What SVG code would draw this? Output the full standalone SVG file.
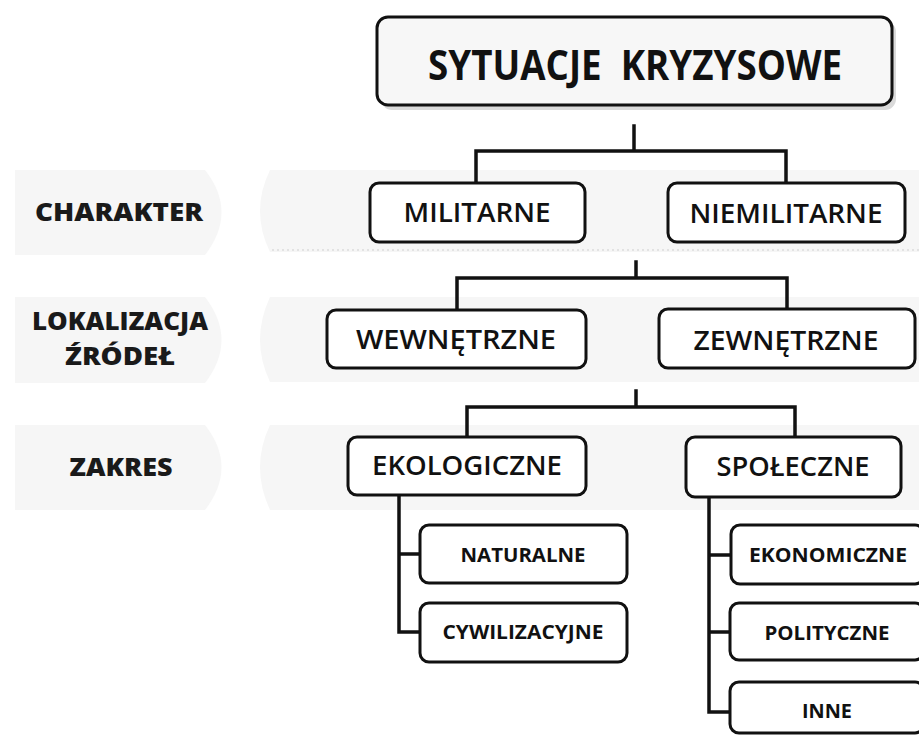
<svg xmlns="http://www.w3.org/2000/svg" width="919" height="736" viewBox="0 0 919 736">
<defs>
<style>
.band{fill:#f6f6f6;stroke:none}
.box{fill:#ffffff;stroke:#111;stroke-width:3}
.t{font-family:"Open Sans","Liberation Sans",sans-serif;fill:#111;text-anchor:middle}
.main{font-size:27px;font-weight:600}
.sub{font-size:19px;font-weight:700}
.lab{font-family:"Open Sans","Liberation Sans",sans-serif;font-size:24px;font-weight:800;fill:#1a1a1a;text-anchor:middle}
.con{fill:none;stroke:#111;stroke-width:3.5;stroke-linecap:square;stroke-linejoin:miter}
</style>
</defs>
<rect width="919" height="736" fill="#ffffff"/>
<g id="bands">
<path class="band" d="M15,170 H205 Q238,212 205,255 H15 Z"/>
<path class="band" d="M270,170 H919 V252 H270 Q250,211 270,170 Z"/>
<line x1="272" y1="250" x2="919" y2="250" stroke="#cfcfcf" stroke-width="1" stroke-dasharray="2 3"/>
<path class="band" d="M15,297 H205 Q238,340 205,383 H15 Z"/>
<path class="band" d="M270,297 H919 V382 H270 Q250,340 270,297 Z"/>
<path class="band" d="M15,425 H205 Q238,467 205,510 H15 Z"/>
<path class="band" d="M270,425 H919 V510 H270 Q250,467 270,425 Z"/>
</g>
<g id="labels">
<text class="lab" x="119" y="221" textLength="168" lengthAdjust="spacingAndGlyphs">CHARAKTER</text>
<text class="lab" x="120" y="330" textLength="176" lengthAdjust="spacingAndGlyphs">LOKALIZACJA</text>
<text class="lab" x="120" y="365" textLength="110" lengthAdjust="spacingAndGlyphs">ŹRÓDEŁ</text>
<text class="lab" x="121" y="476" textLength="103" lengthAdjust="spacingAndGlyphs">ZAKRES</text>
</g>
<g id="connectors">
<path class="con" d="M634,126 V151 M476,183 V151 H786 V183"/>
<path class="con" d="M636,262 V278 M457,310 V278 H787 V309"/>
<path class="con" d="M636,391 V407 M467,437 V407 H795 V437"/>
<path class="con" d="M399,495 V632 H420 M399,554 H420"/>
<path class="con" d="M709,497 V712 H730 M709,555 H730 M709,632 H730"/>
</g>
<g id="n-root">
<rect x="381" y="21" width="515" height="89" rx="11" fill="#dadada"/>
<rect x="377" y="17" width="515" height="88" rx="11" fill="#f7f7f7" stroke="#111" stroke-width="3"/>
<text class="t" x="635" y="80" font-size="42" font-weight="700" textLength="414" lengthAdjust="spacingAndGlyphs">SYTUACJE&#160; KRYZYSOWE</text>
</g>
<g id="n-militarne">
<rect class="box" x="370" y="183" width="215" height="59" rx="9"/>
<text class="t main" x="477" y="222" textLength="147" lengthAdjust="spacingAndGlyphs">MILITARNE</text>
</g>
<g id="n-niemilitarne">
<rect class="box" x="668" y="183" width="237" height="59" rx="9"/>
<text class="t main" x="786" y="223" textLength="193" lengthAdjust="spacingAndGlyphs">NIEMILITARNE</text>
</g>
<g id="n-wewnetrzne">
<rect class="box" x="327" y="310" width="259" height="58" rx="9"/>
<text class="t main" x="456" y="349" textLength="200" lengthAdjust="spacingAndGlyphs">WEWNĘTRZNE</text>
</g>
<g id="n-zewnetrzne">
<rect class="box" x="659" y="309" width="256" height="59" rx="9"/>
<text class="t main" x="786" y="350" textLength="185" lengthAdjust="spacingAndGlyphs">ZEWNĘTRZNE</text>
</g>
<g id="n-ekologiczne">
<rect class="box" x="348" y="437" width="238" height="58" rx="9"/>
<text class="t main" x="467" y="475" textLength="190" lengthAdjust="spacingAndGlyphs">EKOLOGICZNE</text>
</g>
<g id="n-spoleczne">
<rect class="box" x="686" y="437" width="215" height="60" rx="9"/>
<text class="t main" x="793" y="476" textLength="153" lengthAdjust="spacingAndGlyphs">SPOŁECZNE</text>
</g>
<g id="n-naturalne">
<rect class="box" x="420" y="525" width="207" height="58" rx="9"/>
<text class="t sub" x="523" y="562" textLength="125" lengthAdjust="spacingAndGlyphs">NATURALNE</text>
</g>
<g id="n-cywilizacyjne">
<rect class="box" x="420" y="603" width="207" height="59" rx="9"/>
<text class="t sub" x="523" y="639" textLength="161" lengthAdjust="spacingAndGlyphs">CYWILIZACYJNE</text>
</g>
<g id="n-ekonomiczne">
<rect class="box" x="731" y="525" width="193" height="59" rx="9"/>
<text class="t sub" x="828" y="562" textLength="158" lengthAdjust="spacingAndGlyphs">EKONOMICZNE</text>
</g>
<g id="n-polityczne">
<rect class="box" x="730" y="603" width="194" height="57" rx="9"/>
<text class="t sub" x="827" y="640" textLength="125" lengthAdjust="spacingAndGlyphs">POLITYCZNE</text>
</g>
<g id="n-inne">
<rect class="box" x="730" y="682" width="194" height="51" rx="9"/>
<text class="t sub" x="827" y="718" textLength="50" lengthAdjust="spacingAndGlyphs">INNE</text>
</g>
</svg>
